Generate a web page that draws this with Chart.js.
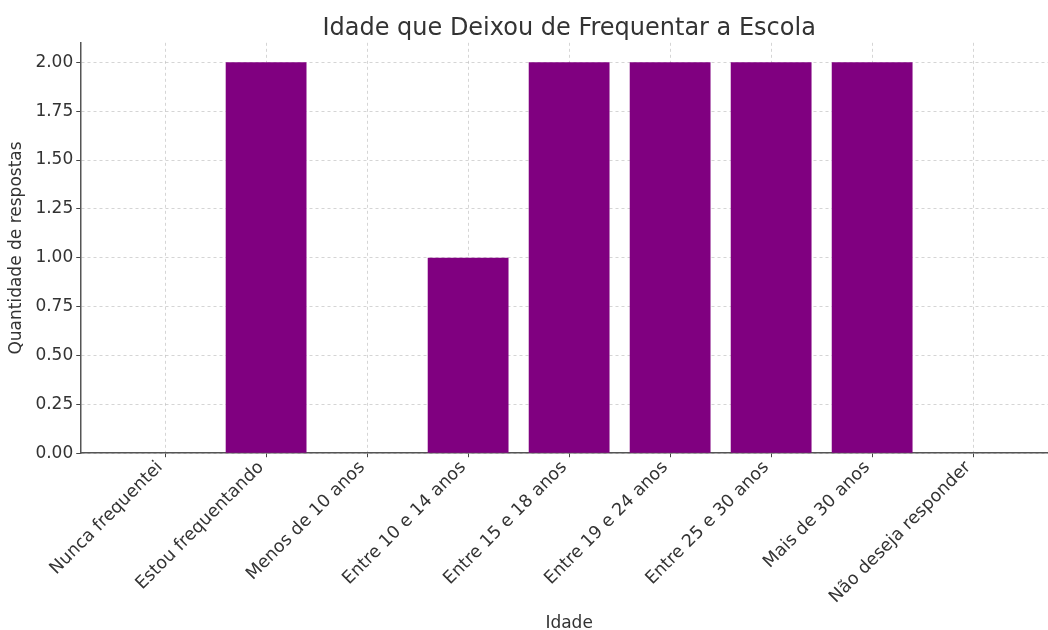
<!DOCTYPE html>
<html><head><meta charset="utf-8">
<script src="https://cdn.jsdelivr.net/npm/chart.js@4"></script>
<style>html,body{margin:0;padding:0;background:#fff;overflow:hidden}#wrap{width:1060px;height:630px}</style>
</head><body><div id="wrap"><canvas id="c" width="1060" height="630"></canvas></div>
<script>
const categories = ["Nunca frequentei","Estou frequentando","Menos de 10 anos","Entre 10 e 14 anos","Entre 15 e 18 anos","Entre 19 e 24 anos","Entre 25 e 30 anos","Mais de 30 anos","Não deseja responder"];
const values = [0,2,0,1,2,2,2,2,0];
const yTicks = [0,0.25,0.5,0.75,1,1.25,1.5,1.75,2];
const titleText = "Idade que Deixou de Frequentar a Escola";
const xTitle = "Idade";
const yTitle = "Quantidade de respostas";

const FONT = "'DejaVu Sans', sans-serif";
const GRID = 'rgba(150,150,150,0.4)';
const pts = values.map((v,i)=>({x:i,y:v}));
new Chart(document.getElementById('c'), {
  type: 'bar',
  data: { datasets: [{ data: pts, backgroundColor: '#800080', borderWidth: 0, barPercentage: 0.8, categoryPercentage: 1.0 }] },
  options: {
    responsive: false, animation: false,
    layout: { padding: { left: 0, right: 2, top: 0, bottom: -4 } },
    plugins: {
      legend: { display: false }, tooltip: { enabled: false },
      title: { display: true, fullSize: false, text: titleText, color: '#333', font: { family: FONT, size: 24, weight: 'normal', lineHeight: 1.2 }, padding: { top: 14, bottom: 0 } }
    },
    scales: {
      x: {
        type: 'linear', min: -0.84, max: 8.84, offset: false, z: 1,
        afterBuildTicks: (s) => { s.ticks = categories.map((c,i)=>({value:i})); },
        ticks: { autoSkip: false, maxRotation: 45, minRotation: 45, color: '#333', font: { family: FONT, size: 17.5 }, padding: 0, labelOffset: -5,
          callback: (v) => categories[v] },
        grid: { offset: false, color: GRID, tickColor: '#444', tickLength: 4, tickBorderDash: [] },
        border: { display: true, color: '#555', width: 1.5, dash: [3,3] },
        title: { display: true, text: xTitle, color: '#333', font: { family: FONT, size: 17, lineHeight: 1.2 }, padding: { top: 6, bottom: 0 } }
      },
      y: {
        min: 0, max: 2.1, z: 1,
        afterBuildTicks: (s) => { s.ticks = yTicks.map(v=>({value:v})); },
        ticks: { color: '#333', font: { family: FONT, size: 17 }, padding: 3, callback: (v) => Number(v).toFixed(2) },
        grid: { color: GRID, tickColor: '#444', tickLength: 4, tickBorderDash: [] },
        border: { display: true, color: '#555', width: 1.5, dash: [3,3] },
        title: { display: true, text: yTitle, color: '#333', font: { family: FONT, size: 17, lineHeight: 1.2 }, padding: { top: 6, bottom: 6 } }
      }
    }
  }
});
</script></body></html>
